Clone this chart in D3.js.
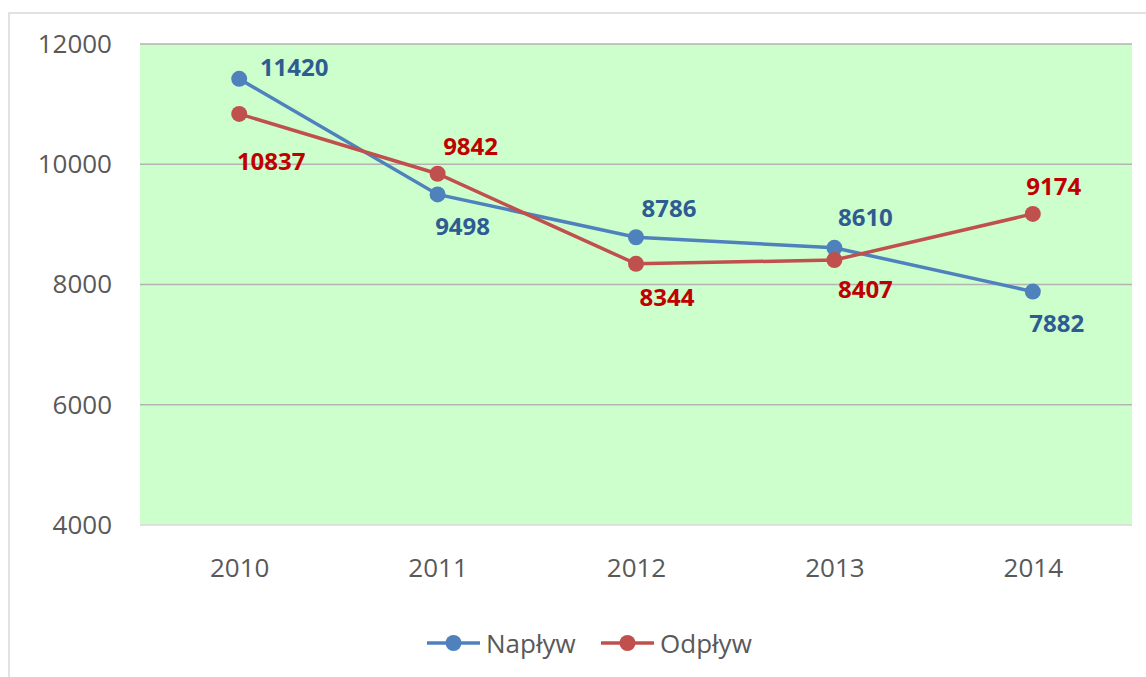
<!DOCTYPE html>
<html>
<head>
<meta charset="utf-8">
<script src="https://cdn.jsdelivr.net/npm/d3@7"></script>
<style>
  body { margin: 0; background: #fff; }
  text { font-family: "Open Sans", sans-serif; }
</style>
</head>
<body>
<div id="chart"></div>
<script>
// Data arrays
let years = ["2010", "2011", "2012", "2013", "2014"];
let naplyw = [11420, 9498, 8786, 8610, 7882];
let odplyw = [10837, 9842, 8344, 8407, 9174];
let yTicks = [4000, 6000, 8000, 10000, 12000];
let seriesNames = ["Napływ", "Odpływ"];

// label offsets from each marker, [dx, dy] in pixels
let naplywOffsets = [[55, -12], [25, 31], [33, -30], [31, -31], [24, 31]];
let odplywOffsets = [[32, 47], [33, -28], [31, 33], [31, 28], [21, -28]];

// svg attributes
let svgWidth = 1146;
let svgHeight = 677;
let plot = { left: 140, top: 44, right: 1132, bottom: 525 };

let svg = d3.select("#chart")
  .append("svg")
  .attr("width", svgWidth)
  .attr("height", svgHeight);

// outer chart frame (runs off the right and bottom edge)
svg.append("rect")
  .attr("x", 9).attr("y", 13)
  .attr("width", 1160).attr("height", 700)
  .attr("fill", "none")
  .attr("stroke", "#d9d9d9")
  .attr("stroke-width", 1.5);

let xScale = d3.scalePoint()
  .domain(years)
  .range([plot.left, plot.right])
  .padding(0.5);

let yScale = d3.scaleLinear()
  .domain([4000, 12000])
  .range([plot.bottom, plot.top]);

// plot background
svg.append("rect")
  .attr("x", plot.left).attr("y", plot.top)
  .attr("width", plot.right - plot.left)
  .attr("height", plot.bottom - plot.top)
  .attr("fill", "#ccffcc");

// gridlines
svg.append("g")
  .selectAll("line")
  .data(yTicks)
  .enter()
  .append("line")
  .attr("x1", plot.left).attr("x2", plot.right)
  .attr("y1", d => yScale(d)).attr("y2", d => yScale(d))
  .attr("stroke", d => d === 4000 ? "#d9d9d9" : "#b3b3b3")
  .attr("stroke-width", 1.5);

// y axis labels
let yAxis = svg.append("g")
  .attr("transform", `translate(${plot.left},0)`)
  .call(d3.axisLeft(yScale).tickValues(yTicks).tickSize(0).tickPadding(28).tickFormat(d3.format("d")));
yAxis.select(".domain").remove();
yAxis.selectAll("text")
  .attr("fill", "#595959")
  .style("font-size", "26px");

// x axis labels
let xAxis = svg.append("g")
  .attr("transform", `translate(0,${plot.bottom})`)
  .call(d3.axisBottom(xScale).tickSize(0).tickPadding(34));
xAxis.select(".domain").remove();
xAxis.selectAll("text")
  .attr("fill", "#595959")
  .style("font-size", "26px");

let series = [
  { name: seriesNames[0], values: naplyw, offsets: naplywOffsets, color: "#4f81bd", labelColor: "#2f5b93" },
  { name: seriesNames[1], values: odplyw, offsets: odplywOffsets, color: "#c0504d", labelColor: "#c00000" }
];

let line = d3.line()
  .x((d, i) => xScale(years[i]))
  .y(d => yScale(d));

series.forEach(s => {
  let g = svg.append("g");
  g.append("path")
    .attr("d", line(s.values))
    .attr("fill", "none")
    .attr("stroke", s.color)
    .attr("stroke-width", 3.5);

  g.selectAll("circle")
    .data(s.values)
    .enter()
    .append("circle")
    .attr("cx", (d, i) => xScale(years[i]))
    .attr("cy", d => yScale(d))
    .attr("r", 8)
    .attr("fill", s.color);

  g.selectAll("text")
    .data(s.values)
    .enter()
    .append("text")
    .attr("x", (d, i) => xScale(years[i]) + s.offsets[i][0])
    .attr("y", (d, i) => yScale(d) + s.offsets[i][1])
    .attr("text-anchor", "middle")
    .attr("dominant-baseline", "central")
    .attr("fill", s.labelColor)
    .style("font-size", "24px")
    .style("font-weight", "bold")
    .text(d => d);
});

// legend
let legendX = [427, 601];
let legend = svg.append("g")
  .selectAll("g")
  .data(series)
  .enter()
  .append("g")
  .attr("transform", (d, i) => `translate(${legendX[i]},643)`);

legend.append("line")
  .attr("x1", 0).attr("x2", 53)
  .attr("stroke", d => d.color)
  .attr("stroke-width", 3.5);
legend.append("circle")
  .attr("cx", 26.5).attr("r", 8)
  .attr("fill", d => d.color);
legend.append("text")
  .attr("x", 59)
  .attr("dominant-baseline", "central")
  .attr("fill", "#595959")
  .style("font-size", "26px")
  .text(d => d.name);
</script>
</body>
</html>
